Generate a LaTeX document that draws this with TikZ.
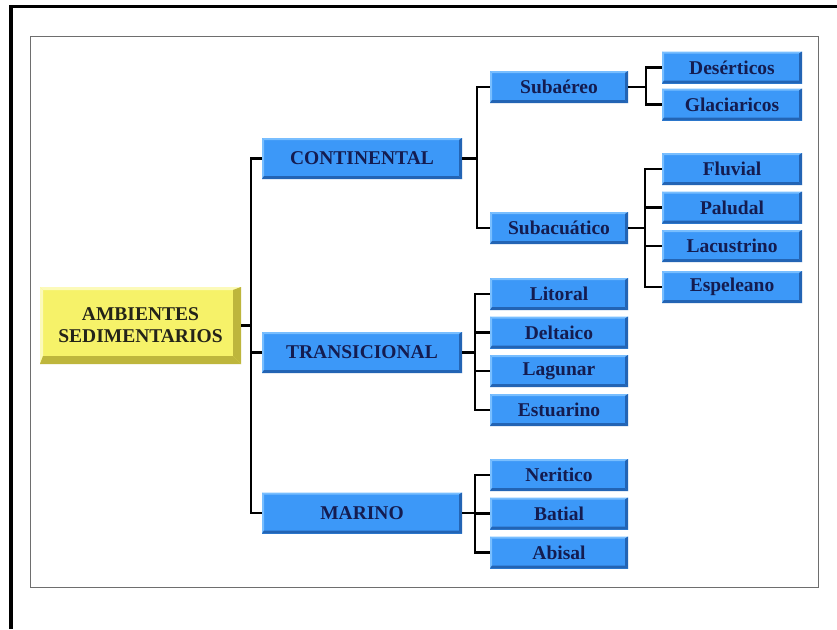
\documentclass[tikz,border=0pt]{standalone}
\usepackage{fontspec}
\setmainfont{Liberation Serif}
\definecolor{bfill}{RGB}{60,152,248}
\definecolor{blight}{RGB}{120,190,255}
\definecolor{bdark}{RGB}{35,100,180}
\definecolor{yfill}{RGB}{246,242,105}
\definecolor{ylight}{RGB}{252,250,185}
\definecolor{ydark}{RGB}{190,182,60}
\definecolor{btext}{RGB}{20,28,80}
\definecolor{ytext}{RGB}{35,35,25}
\definecolor{frameg}{RGB}{110,110,110}
\newcommand\bevelpic[4]{%
  \path (path picture bounding box.north west) coordinate (bnw)
        (path picture bounding box.north east) coordinate (bne)
        (path picture bounding box.south west) coordinate (bsw)
        (path picture bounding box.south east) coordinate (bse);
  \fill[#1] (bnw) -- (bne) -- ([shift={(-#4,-#3)}]bne) -- ([shift={(#3,-#3)}]bnw) -- cycle;
  \fill[#1] (bnw) -- ([shift={(#3,-#3)}]bnw) -- ([shift={(#3,#4)}]bsw) -- (bsw) -- cycle;
  \fill[#2] (bsw) -- (bse) -- ([shift={(-#4,#4)}]bse) -- ([shift={(#3,#4)}]bsw) -- cycle;
  \fill[#2] (bne) -- (bse) -- ([shift={(-#4,#4)}]bse) -- ([shift={(-#4,-#3)}]bne) -- cycle;
}
\begin{document}
\begin{tikzpicture}[x=1pt,y=-1pt,
  boxtext/.style={font=\bfseries\fontsize{19.5}{22}\selectfont, inner sep=0pt, align=center},
  bluebox/.style={boxtext, rectangle, fill=bfill, text=btext,
    path picture={\bevelpic{blight}{bdark}{2pt}{3pt}}},
  midbox/.style={bluebox, minimum width=138pt, minimum height=32pt},
  rightbox/.style={bluebox, minimum width=140pt, minimum height=32pt},
  topbox/.style={bluebox, minimum width=200pt, minimum height=41pt},
  rootbox/.style={boxtext, rectangle, fill=yfill, text=ytext,
    minimum width=201pt, minimum height=77pt,
    path picture={\bevelpic{ylight}{ydark}{3pt}{8pt}}},
  link/.style={draw=black, line width=2.5pt}
]
\useasboundingbox (0,0) rectangle (837,629);
\fill[white] (0,0) rectangle (837,629);
% frames
\draw[line width=3.5pt, black] (11,629) -- (11,6.5) -- (837,6.5);
\draw[line width=1pt, frameg] (30,36) rectangle (818,587);

% nodes
\node[rootbox] (root) at (140.5,325.5) {AMBIENTES\\SEDIMENTARIOS};

\node[topbox] (cont) at (362,158.5) {CONTINENTAL};
\node[topbox] (trans) at (362,352.5) {TRANSICIONAL};
\node[topbox] (mar) at (362,513) {MARINO};

\node[midbox] (suba) at (559,87) {Subaéreo};
\node[midbox] (subc) at (559,228) {Subacuático};
\node[midbox] (lit) at (559,294) {Litoral};
\node[midbox] (del) at (559,332.5) {Deltaico};
\node[midbox] (lag) at (559,371) {Lagunar};
\node[midbox] (est) at (559,410) {Estuarino};
\node[midbox] (ner) at (559,475) {Neritico};
\node[midbox] (bat) at (559,513.5) {Batial};
\node[midbox] (abi) at (559,552.5) {Abisal};

\node[rightbox] (des) at (732,67.5) {Desérticos};
\node[rightbox] (gla) at (732,104.5) {Glaciaricos};
\node[rightbox] (flu) at (732,169) {Fluvial};
\node[rightbox] (pal) at (732,207.5) {Paludal};
\node[rightbox] (lac) at (732,246) {Lacustrino};
\node[rightbox] (esp) at (732,287) {Espeleano};

% junctions
\coordinate (j0) at (251,325.5);
\coordinate (j1) at (477,158.5);
\coordinate (j2) at (475,352.5);
\coordinate (j3) at (475,513);
\coordinate (j4) at (646,87);
\coordinate (j5) at (645,228);

% connectors
\draw[link] (root.east) -- (j0);
\draw[link] (cont.west) -| (j0) |- (mar.west);
\draw[link] (trans.west) -- (trans.west -| j0);

\draw[link] (cont.east) -- (j1);
\draw[link] (suba.west) -| (j1) |- (subc.west);

\draw[link] (trans.east) -- (j2);
\draw[link] (lit.west) -| (j2) |- (est.west);
\draw[link] (del.west) -- (del.west -| j2);
\draw[link] (lag.west) -- (lag.west -| j2);

\draw[link] (mar.east) -- (j3);
\draw[link] (ner.west) -| (j3) |- (abi.west);
\draw[link] (bat.west) -- (bat.west -| j3);

\draw[link] (suba.east) -- (j4);
\draw[link] (des.west) -| (j4) |- (gla.west);

\draw[link] (subc.east) -- (j5);
\draw[link] (flu.west) -| (j5) |- (esp.west);
\draw[link] (pal.west) -- (pal.west -| j5);
\draw[link] (lac.west) -- (lac.west -| j5);
\end{tikzpicture}
\end{document}
